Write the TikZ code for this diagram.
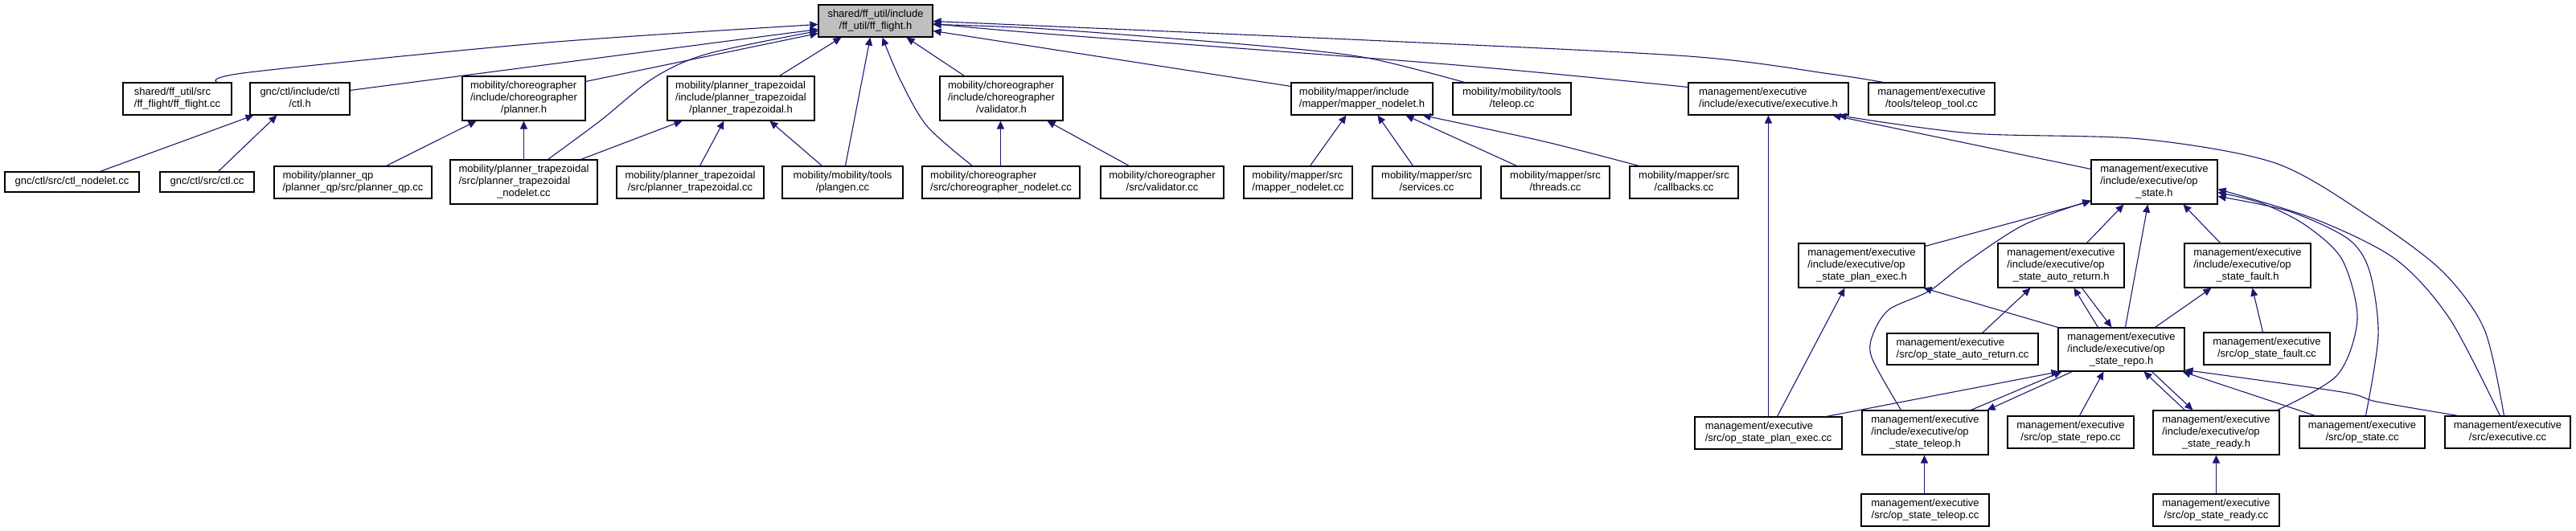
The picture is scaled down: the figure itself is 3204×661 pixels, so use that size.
\documentclass[tikz,border=0pt]{standalone}
\usepackage{fontspec}
\setmainfont{Liberation Sans}
\usetikzlibrary{arrows.meta}
\definecolor{edgeblue}{RGB}{25,25,112}
\definecolor{rootgray}{RGB}{191,191,191}
\newcommand\lb[2]{\begin{tabular}{@{}l@{}}#1\\\multicolumn{1}{@{}c@{}}{#2}\end{tabular}}
\newcommand\bx[7][white]{\node[box, fill=#1, minimum width={(#5-#3)*1pt}, minimum height={(#6-#4)*1pt}] (#2) at ({(#3+#5)/2},{(#4+#6)/2}) {#7};}
\tikzset{
  box/.style={draw=black, line width=1.1pt, inner sep=0pt, font=\fontsize{13}{15}\selectfont},
  edge/.style={draw=edgeblue, line width=1.1pt, -{Triangle[length=10pt,width=9pt]}},
}
\begin{document}
\begin{tikzpicture}[x=1pt,y=-1pt]
\useasboundingbox (0,0) rectangle (3204,661);
% row 1
\bx[rootgray]{root}{1018}{6}{1160}{46}{\lb{shared/ff\_util/include}{/ff\_util/ff\_flight.h}}
% row 2
\bx{ffcc}{153}{103}{288}{143}{\lb{shared/ff\_util/src}{/ff\_flight/ff\_flight.cc}}
\bx{ctlh}{311}{103}{435}{143}{\lb{gnc/ctl/include/ctl}{/ctl.h}}
\bx{plannerh}{575}{95}{728}{150}{\lb{mobility/choreographer\\/include/choreographer}{/planner.h}}
\bx{ptraph}{830}{95}{1013}{150}{\lb{mobility/planner\_trapezoidal\\/include/planner\_trapezoidal}{/planner\_trapezoidal.h}}
\bx{validh}{1169}{95}{1322}{150}{\lb{mobility/choreographer\\/include/choreographer}{/validator.h}}
\bx{mapperh}{1606}{103}{1782}{143}{\lb{mobility/mapper/include}{/mapper/mapper\_nodelet.h}}
\bx{teleopcc}{1807}{103}{1954}{143}{\lb{mobility/mobility/tools}{/teleop.cc}}
\bx{exech}{2100}{103}{2299}{143}{\lb{management/executive}{/include/executive/executive.h}}
\bx{tooltc}{2324}{103}{2481}{143}{\lb{management/executive}{/tools/teleop\_tool.cc}}
% row 3
\bx{ctlnod}{6}{214}{173}{239}{gnc/ctl/src/ctl\_nodelet.cc}
\bx{ctlcc}{199}{214}{316}{239}{gnc/ctl/src/ctl.cc}
\bx{qpcc}{341}{207}{537}{247}{\lb{mobility/planner\_qp}{/planner\_qp/src/planner\_qp.cc}}
\bx{ptrapnod}{560}{199}{743}{254}{\lb{mobility/planner\_trapezoidal\\/src/planner\_trapezoidal}{\_nodelet.cc}}
\bx{ptrapcc}{767}{207}{950}{247}{\lb{mobility/planner\_trapezoidal}{/src/planner\_trapezoidal.cc}}
\bx{plangen}{973}{207}{1123}{247}{\lb{mobility/mobility/tools}{/plangen.cc}}
\bx{chornod}{1147}{207}{1343}{247}{\lb{mobility/choreographer}{/src/choreographer\_nodelet.cc}}
\bx{validcc}{1369}{207}{1522}{247}{\lb{mobility/choreographer}{/src/validator.cc}}
\bx{mapcc}{1547}{207}{1682}{247}{\lb{mobility/mapper/src}{/mapper\_nodelet.cc}}
\bx{servcc}{1707}{207}{1842}{247}{\lb{mobility/mapper/src}{/services.cc}}
\bx{thrcc}{1867}{207}{2002}{247}{\lb{mobility/mapper/src}{/threads.cc}}
\bx{cbcc}{2027}{207}{2162}{247}{\lb{mobility/mapper/src}{/callbacks.cc}}
\bx{oph}{2601}{199}{2758}{254}{\lb{management/executive\\/include/executive/op}{\_state.h}}
% row 4
\bx{pexh}{2237}{303}{2394}{358}{\lb{management/executive\\/include/executive/op}{\_state\_plan\_exec.h}}
\bx{arh}{2485}{303}{2642}{358}{\lb{management/executive\\/include/executive/op}{\_state\_auto\_return.h}}
\bx{fh}{2717}{303}{2874}{358}{\lb{management/executive\\/include/executive/op}{\_state\_fault.h}}
% row 5
\bx{arcc}{2347}{415}{2535}{454}{\lb{management/executive}{/src/op\_state\_auto\_return.cc}}
\bx{repoh}{2560}{408}{2717}{462}{\lb{management/executive\\/include/executive/op}{\_state\_repo.h}}
\bx{fcc}{2741}{414}{2898}{454}{\lb{management/executive}{/src/op\_state\_fault.cc}}
% row 6
\bx{pexcc}{2108}{519}{2291}{559}{\lb{management/executive}{/src/op\_state\_plan\_exec.cc}}
\bx{telh}{2316}{511}{2473}{566}{\lb{management/executive\\/include/executive/op}{\_state\_teleop.h}}
\bx{repocc}{2497}{518}{2654}{558}{\lb{management/executive}{/src/op\_state\_repo.cc}}
\bx{readyh}{2678}{511}{2835}{566}{\lb{management/executive\\/include/executive/op}{\_state\_ready.h}}
\bx{opcc}{2860}{518}{3016}{558}{\lb{management/executive}{/src/op\_state.cc}}
\bx{execcc}{3041}{518}{3197}{558}{\lb{management/executive}{/src/executive.cc}}
% row 7
\bx{telcc}{2315}{615}{2474}{655}{\lb{management/executive}{/src/op\_state\_teleop.cc}}
\bx{readycc}{2678}{615}{2835}{655}{\lb{management/executive}{/src/op\_state\_ready.cc}}

% edges into root
\draw[edge] plot[smooth] coordinates {([xshift=118pt]ffcc.north west) (310,90) (680,53) ([yshift=-25pt]root.north west)};
\draw[edge] ([yshift=-10pt]ctlh.north east) -- ([yshift=-31pt]root.north west);
\draw[edge] ([yshift=-7pt]plannerh.north east) -- ([yshift=-36pt]root.north west);
\draw[edge] plot[smooth] coordinates {([xshift=122pt]ptrapnod.north west) (747,150) (813,97) (880,67) ([yshift=-33pt]root.north west)};
\draw[edge] ([xshift=140pt]ptraph.north west) -- ([xshift=29pt]root.south west);
\draw[edge] ([xshift=79pt]plangen.north west) -- ([xshift=65pt]root.south west);
\draw[edge] plot[smooth] coordinates {([xshift=63pt]chornod.north west) (1153,157) (1120,100) ([xshift=80pt]root.south west)};
\draw[edge] ([xshift=31pt]validh.north west) -- ([xshift=110pt]root.south west);
\draw[edge] ([yshift=-5pt]mapperh.north west) -- ([yshift=-33pt]root.north east);
\draw[edge] plot[smooth] coordinates {([xshift=15pt]teleopcc.north west) (1700,72) (1568,57) (1300,36) ([yshift=-25pt]root.north east)};
\draw[edge] plot[smooth] coordinates {([yshift=-6pt]exech.north west) (1800,80) (1300,42) ([yshift=-24pt]root.north east)};
\draw[edge] plot[smooth] coordinates {([xshift=19pt]tooltc.north west) (2276,92) (2100,70) (1700,50) ([yshift=-21pt]root.north east)};
% second level
\draw[edge] ([xshift=119pt]ctlnod.north west) -- ([xshift=5pt]ctlh.south west);
\draw[edge] ([xshift=73pt]ctlcc.north west) -- ([xshift=34pt]ctlh.south west);
\draw[edge] ([xshift=140pt]qpcc.north west) -- ([xshift=18pt]plannerh.south west);
\draw[edge] ([xshift=92pt]ptrapnod.north west) -- ([xshift=77pt]plannerh.south west);
\draw[edge] ([xshift=163pt]ptrapnod.north west) -- ([xshift=19pt]ptraph.south west);
\draw[edge] ([xshift=104pt]ptrapcc.north west) -- ([xshift=71pt]ptraph.south west);
\draw[edge] ([xshift=50pt]plangen.north west) -- ([xshift=128pt]ptraph.south west);
\draw[edge] ([xshift=98pt]chornod.north west) -- ([xshift=76pt]validh.south west);
\draw[edge] ([xshift=36pt]validcc.north west) -- ([xshift=134pt]validh.south west);
\draw[edge] ([xshift=83pt]mapcc.north west) -- ([xshift=69pt]mapperh.south west);
\draw[edge] ([xshift=51pt]servcc.north west) -- ([xshift=108pt]mapperh.south west);
\draw[edge] ([xshift=20pt]thrcc.north west) -- ([xshift=143pt]mapperh.south west);
\draw[edge] plot[smooth] coordinates {([xshift=12pt]cbcc.north west) (1920,176) ([xshift=164pt]mapperh.south west)};
% executive
\draw[edge] ([xshift=92pt]pexcc.north west) -- ([xshift=100pt]exech.south west);
\draw[edge] ([yshift=-12pt]oph.north west) -- ([xshift=180pt]exech.south west);
\draw[edge] plot[smooth] coordinates {([xshift=74pt]execcc.north west) (3090,410) (3037,337) (2947,270) (2830,203) (2663,173) (2452,166) ([xshift=187pt]exech.south west)};
% op_state.h
\draw[edge] ([xshift=103pt]pexcc.north west) -- ([xshift=58pt]pexh.south west);
\draw[edge] (repoh.north west) -- ([xshift=-2pt]pexh.south east);
\draw[edge] ([yshift=-4pt]pexh.north east) -- ([yshift=4pt]oph.south west);
\draw[edge] plot[smooth] coordinates {([xshift=49pt]telh.north west) (2328,445) (2330,415) (2350,385) (2400,362) (2445,327) (2517,280) ([yshift=5pt]oph.south west)};
\draw[edge] ([xshift=111pt]arh.north west) -- ([xshift=41pt]oph.south west);
\draw[edge] ([xshift=84pt]repoh.north west) -- ([xshift=71pt]oph.south west);
\draw[edge] ([xshift=45pt]fh.north west) -- ([xshift=115pt]oph.south west);
\draw[edge] plot[smooth] coordinates {([xshift=-3pt]readyh.north east) (2907,467) (2932,397) (2913,323) (2867,280) (2813,253) ([yshift=-41pt]oph.north east)};
\draw[edge] plot[smooth] coordinates {([xshift=83pt]opcc.north west) (2958,417) (2947,337) (2920,297) (2847,263) ([yshift=-46pt]oph.north east)};
\draw[edge] plot[smooth] coordinates {([xshift=69pt]execcc.north west) (3047,397) (2980,323) (2880,273) ([yshift=-37pt]oph.north east)};
% third level
\draw[edge] ([xshift=119pt]arcc.north west) -- ([xshift=41pt]arh.south west);
\draw[edge] ([xshift=50pt]repoh.north west) -- ([xshift=95pt]arh.south west);
\draw[edge] ([xshift=105pt]arh.south west) -- ([xshift=67pt]repoh.north west);
\draw[edge] ([xshift=121pt]repoh.north west) -- ([xshift=34pt]fh.south west);
\draw[edge] ([xshift=74pt]fcc.north west) -- ([xshift=85pt]fh.south west);
% repo
\draw[edge] ([xshift=164pt]pexcc.north west) -- ([xshift=2pt]repoh.south west);
\draw[edge] ([xshift=136pt]telh.north west) -- ([xshift=5pt]repoh.south west);
\draw[edge] ([xshift=18pt]repoh.south west) -- ([xshift=-2pt]telh.north east);
\draw[edge] ([xshift=90pt]repocc.north west) -- ([xshift=57pt]repoh.south west);
\draw[edge] ([xshift=40pt]readyh.north west) -- ([xshift=107pt]repoh.south west);
\draw[edge] ([xshift=117pt]repoh.south west) -- ([xshift=50pt]readyh.north west);
\draw[edge] ([xshift=20pt]opcc.north west) -- ([xshift=-3pt]repoh.south east);
\draw[edge] plot[smooth] coordinates {([xshift=17pt]execcc.north west) (2956,500) (2913,488) ([yshift=2pt]repoh.south east)};
% leaves
\draw[edge] ([xshift=79pt]telcc.north west) -- ([xshift=78pt]telh.south west);
\draw[edge] ([xshift=79pt]readycc.north west) -- ([xshift=79pt]readyh.south west);
\end{tikzpicture}
\end{document}
